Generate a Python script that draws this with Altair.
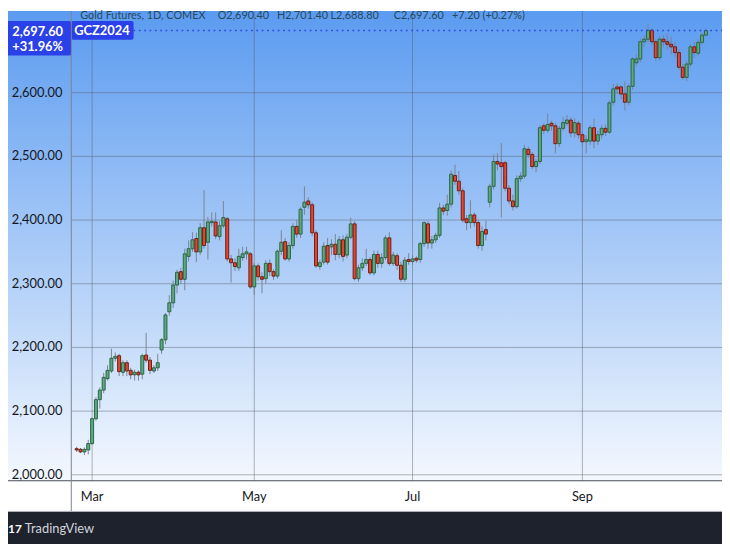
import altair as alt
import pandas as pd

# ---------------- data ----------------
opens = [2041, 2040, 2036, 2039, 2049, 2088, 2118, 2133, 2151, 2163,
         2183, 2187, 2161, 2176, 2164, 2157, 2161, 2158, 2188, 2180,
         2163, 2168, 2196, 2212, 2256, 2270, 2298, 2319, 2307, 2343,
         2355, 2371, 2350, 2388, 2365, 2396, 2397, 2374, 2391, 2402,
         2339, 2333, 2325, 2341, 2347, 2347, 2295, 2328, 2311, 2308,
         2332, 2319, 2312, 2351, 2366, 2339, 2360, 2390, 2378, 2420,
         2430, 2424, 2380, 2327, 2334, 2360, 2358, 2362, 2346, 2369,
         2345, 2373, 2394, 2308, 2325, 2332, 2338, 2317, 2346, 2332,
         2341, 2372, 2332, 2344, 2329, 2307, 2338, 2335, 2340, 2338,
         2363, 2394, 2364, 2369, 2376, 2419, 2415, 2425, 2470, 2461,
         2446, 2402, 2396, 2408, 2396, 2360, 2385, 2428, 2453, 2492,
         2490, 2490, 2450, 2430, 2421, 2465, 2469, 2511, 2503, 2484,
         2492, 2548, 2541, 2552, 2548, 2520, 2544, 2552, 2557, 2537,
         2552, 2534, 2523, 2524, 2545, 2524, 2534, 2544, 2538, 2585,
         2609, 2609, 2598, 2585, 2610, 2647, 2653, 2680, 2684, 2698,
         2680, 2655, 2684, 2680, 2676, 2672, 2663, 2640, 2624, 2645,
         2672, 2662, 2679, 2690.4]
highs = [2044, 2042, 2043, 2055, 2090, 2122, 2137, 2160, 2172, 2198,
         2192, 2190, 2180, 2180, 2168, 2165, 2164, 2190, 2223, 2185,
         2172, 2190, 2215, 2254, 2282, 2305, 2322, 2325, 2355, 2368,
         2381, 2380, 2395, 2447, 2405, 2412, 2412, 2398, 2430, 2405,
         2345, 2340, 2355, 2358, 2358, 2350, 2333, 2332, 2318, 2337,
         2338, 2323, 2354, 2384, 2372, 2365, 2395, 2400, 2420, 2453,
         2436, 2428, 2384, 2338, 2365, 2372, 2370, 2378, 2375, 2376,
         2378, 2404, 2398, 2330, 2340, 2355, 2342, 2352, 2352, 2348,
         2376, 2381, 2350, 2348, 2335, 2342, 2348, 2345, 2343, 2366,
         2398, 2398, 2375, 2380, 2427, 2424, 2440, 2478, 2487, 2477,
         2450, 2408, 2431, 2412, 2400, 2390, 2399, 2457, 2503, 2505,
         2521, 2493, 2455, 2440, 2470, 2475, 2518, 2515, 2507, 2496,
         2549, 2552, 2567, 2556, 2553, 2548, 2562, 2565, 2562, 2560,
         2556, 2538, 2533, 2549, 2559, 2540, 2549, 2550, 2588, 2614,
         2615, 2612, 2618, 2614, 2656, 2660, 2685, 2690, 2708, 2702,
         2684, 2689, 2690, 2692, 2688, 2680, 2668, 2645, 2650, 2676,
         2680, 2684, 2694, 2701.4]
lows = [2036, 2034, 2031, 2032, 2047, 2085, 2104, 2128, 2148, 2160,
        2178, 2155, 2155, 2155, 2150, 2148, 2148, 2150, 2176, 2158,
        2160, 2163, 2190, 2205, 2250, 2262, 2285, 2300, 2290, 2335,
        2350, 2334, 2345, 2355, 2338, 2390, 2370, 2368, 2388, 2335,
        2302, 2320, 2320, 2336, 2338, 2292, 2283, 2305, 2285, 2300,
        2312, 2306, 2308, 2345, 2336, 2335, 2355, 2372, 2372, 2408,
        2418, 2375, 2325, 2322, 2330, 2330, 2345, 2337, 2340, 2335,
        2340, 2370, 2305, 2303, 2320, 2328, 2314, 2313, 2325, 2325,
        2337, 2328, 2328, 2322, 2303, 2303, 2330, 2330, 2333, 2333,
        2358, 2355, 2355, 2364, 2372, 2408, 2407, 2420, 2455, 2440,
        2396, 2384, 2387, 2390, 2355, 2352, 2368, 2420, 2448, 2478,
        2404, 2445, 2425, 2415, 2418, 2460, 2465, 2498, 2480, 2475,
        2488, 2535, 2537, 2540, 2505, 2515, 2540, 2548, 2530, 2530,
        2528, 2515, 2505, 2518, 2513, 2518, 2528, 2532, 2535, 2580,
        2598, 2590, 2572, 2580, 2605, 2642, 2648, 2672, 2679, 2674,
        2650, 2650, 2672, 2668, 2660, 2656, 2636, 2620, 2618, 2640,
        2655, 2658, 2675, 2688.8]
closes = [2039, 2036, 2040, 2049, 2088, 2118, 2133, 2153, 2164, 2183,
          2186, 2162, 2176, 2163, 2157, 2161, 2157, 2187, 2180, 2164,
          2168, 2176, 2212, 2251, 2270, 2298, 2318, 2307, 2347, 2355,
          2369, 2350, 2388, 2360, 2397, 2398, 2375, 2391, 2404, 2339,
          2333, 2327, 2343, 2347, 2350, 2295, 2328, 2311, 2307, 2332,
          2319, 2312, 2351, 2365, 2339, 2360, 2390, 2378, 2417, 2428,
          2424, 2380, 2328, 2333, 2359, 2334, 2362, 2346, 2369, 2343,
          2373, 2394, 2308, 2325, 2332, 2338, 2317, 2346, 2332, 2341,
          2372, 2332, 2345, 2329, 2307, 2337, 2335, 2339, 2337, 2363,
          2396, 2364, 2369, 2376, 2419, 2414, 2425, 2472, 2461, 2446,
          2400, 2396, 2408, 2396, 2360, 2382, 2378, 2453, 2492, 2488,
          2484, 2450, 2430, 2421, 2465, 2469, 2512, 2503, 2484, 2492,
          2545, 2541, 2550, 2548, 2520, 2544, 2553, 2557, 2537, 2553,
          2534, 2523, 2526, 2545, 2524, 2534, 2544, 2538, 2584, 2606,
          2606, 2598, 2585, 2610, 2653, 2653, 2680, 2684, 2698, 2680,
          2655, 2684, 2680, 2676, 2672, 2663, 2640, 2624, 2645, 2672,
          2663, 2679, 2690.4, 2697.6]

month_labels = ["Mar", "May", "Jul", "Sep"]
month_index = [4, 46, 87, 131]          # bar index of the first session of each month
price_ticks = [2000, 2100, 2200, 2300, 2400, 2500, 2600]
last_price = [2697.60]
header_parts = ["Gold Futures, 1D, COMEX", "O2,690.40", "H2,701.40", "L2,688.80",
                "C2,697.60", "+7.20 (+0.27%)"]
badge_texts = ["2,697.60", "+31.96%", "GCZ2024"]
footer_text = "TradingView"

# ---------------- tables ----------------
n = len(opens)
bars = pd.DataFrame({"idx": list(range(n)), "open": opens, "high": highs,
                     "low": lows, "close": closes})
bars["dir"] = ["up" if c >= o else "down" for o, c in zip(opens, closes)]
ticks_df = pd.DataFrame({"p": price_ticks, "lab": [f"{p:,.2f}" for p in price_ticks]})
months_df = pd.DataFrame({"m": month_index, "lab": month_labels})

# ---------------- styling / layout ----------------
FONT = "Lato"
W, H = 658, 475
TOTAL_H = 539
UP_FILL, UP_EDGE = "#5ea97f", "#2b6446"
DN_FILL, DN_EDGE = "#e4462f", "#6e1e14"
WICK = "#7a8594"
GRID = "#555b66"
BLUE = "#2a40e8"
TXT = "#131722"

x_scale = alt.Scale(domain=[-0.11, 165.88], nice=False, zero=False)
y_scale = alt.Scale(domain=[1990.7, 2728.3], nice=False, zero=False)
one = pd.DataFrame({"k": [0]})
v = alt.value

# background gradient over plot + price-axis area
bg = alt.Chart(one).mark_rect(
    fill=alt.Gradient(gradient="linear",
                      stops=[alt.GradientStop(color="#5b9bf0", offset=0),
                             alt.GradientStop(color="#f4f8fe", offset=1)],
                      x1=0, x2=0, y1=0, y2=1)
).encode(x=v(-64), x2=v(W), y=v(0), y2=v(H))

band = alt.Chart(one).mark_rect(fill="white").encode(x=v(-64), x2=v(W), y=v(H), y2=v(506))
footer = alt.Chart(one).mark_rect(fill="#1e222d").encode(x=v(-64), x2=v(W), y=v(506), y2=v(TOTAL_H))

hgrid = alt.Chart(ticks_df).mark_rule(
    color=GRID, opacity=0.45, strokeWidth=1
).encode(y=alt.Y("p:Q", scale=y_scale, axis=None), x=v(0), x2=v(W))

vgrid = alt.Chart(months_df).mark_rule(
    color=GRID, opacity=0.45, strokeWidth=1
).encode(x=alt.X("m:Q", scale=x_scale, axis=None), y=v(0), y2=v(H))

wick = alt.Chart(bars).mark_rule(color=WICK, strokeWidth=1).encode(
    x=alt.X("idx:Q", scale=x_scale, axis=None),
    y=alt.Y("low:Q", scale=y_scale, axis=None),
    y2="high:Q",
)

body = alt.Chart(bars).mark_bar(size=3, strokeWidth=1).encode(
    x=alt.X("idx:Q", scale=x_scale, axis=None),
    y=alt.Y("open:Q", scale=y_scale, axis=None),
    y2="close:Q",
    fill=alt.Fill("dir:N", scale=alt.Scale(domain=["up", "down"], range=[UP_FILL, DN_FILL]), legend=None),
    stroke=alt.Stroke("dir:N", scale=alt.Scale(domain=["up", "down"], range=[UP_EDGE, DN_EDGE]), legend=None),
)

price_line = alt.Chart(pd.DataFrame({"p": last_price})).mark_rule(
    color=BLUE, strokeWidth=1.6, strokeDash=[1.6, 3.8]
).encode(y=alt.Y("p:Q", scale=y_scale, axis=None), x=v(63), x2=v(W))

# price-axis labels and time-axis labels, placed through the scales
y_labels = alt.Chart(ticks_df).mark_text(
    align="right", baseline="middle", font=FONT, fontSize=13, color=TXT
).encode(y=alt.Y("p:Q", scale=y_scale, axis=None), x=v(-9), text="lab:N")

x_labels = alt.Chart(months_df).mark_text(
    align="center", baseline="middle", font=FONT, fontSize=13, color=TXT
).encode(x=alt.X("m:Q", scale=x_scale, axis=None), y=v(491), text="lab:N")

badge1 = alt.Chart(one).mark_rect(fill=BLUE, cornerRadius=2).encode(x=v(-68), x2=v(0), y=v(10), y2=v(45))
badge2 = alt.Chart(one).mark_rect(fill=BLUE, cornerRadius=2).encode(x=v(0), x2=v(63), y=v(10), y2=v(29))


def text(txt, x, y, size=12, color=TXT, weight="normal", align="left"):
    return alt.Chart(one).mark_text(
        align=align, baseline="middle", font=FONT, fontSize=size, fontWeight=weight, color=color
    ).encode(x=v(x), y=v(y), text=v(txt))


header_x = [9, 148, 208, 262, 326, 385]
header = [text(t, x, 5, size=11, color="#26485a") for t, x in zip(header_parts, header_x)]

badge_txt = [
    text(badge_texts[0], -34, 21, size=13, color="white", weight="bold", align="center"),
    text(badge_texts[1], -34, 36, size=13, color="white", weight="bold", align="center"),
    text(badge_texts[2], 31, 20, size=13, color="white", weight="bold", align="center"),
]

x_line = alt.Chart(one).mark_rule(color="#4a4e57", strokeWidth=1.2).encode(x=v(-64), x2=v(W), y=v(H))
y_line = alt.Chart(one).mark_rule(color="#7c8390", strokeWidth=1).encode(x=v(0), y=v(0), y2=v(506))
foot_line = alt.Chart(one).mark_rule(color="#b2b5be", strokeWidth=1).encode(x=v(-64), x2=v(W), y=v(506))

logo = text("17", -64, 524, size=12, color="white", weight="bold")
foot = text(footer_text, -47, 524, size=13, color="#d1d4dc")

chart = alt.layer(
    bg, band, footer, hgrid, vgrid, wick, body, price_line, y_labels, x_labels,
    badge1, badge2, *badge_txt, *header, x_line, y_line, foot_line, logo, foot,
).properties(
    width=W, height=H,
    padding={"left": 64, "top": 0, "right": 0, "bottom": TOTAL_H - H},
    autosize=alt.AutoSizeParams(type="none"),
).configure_view(stroke=None).configure(background="white")

chart.save("out.html", embed_options={"renderer": "svg", "actions": False})
